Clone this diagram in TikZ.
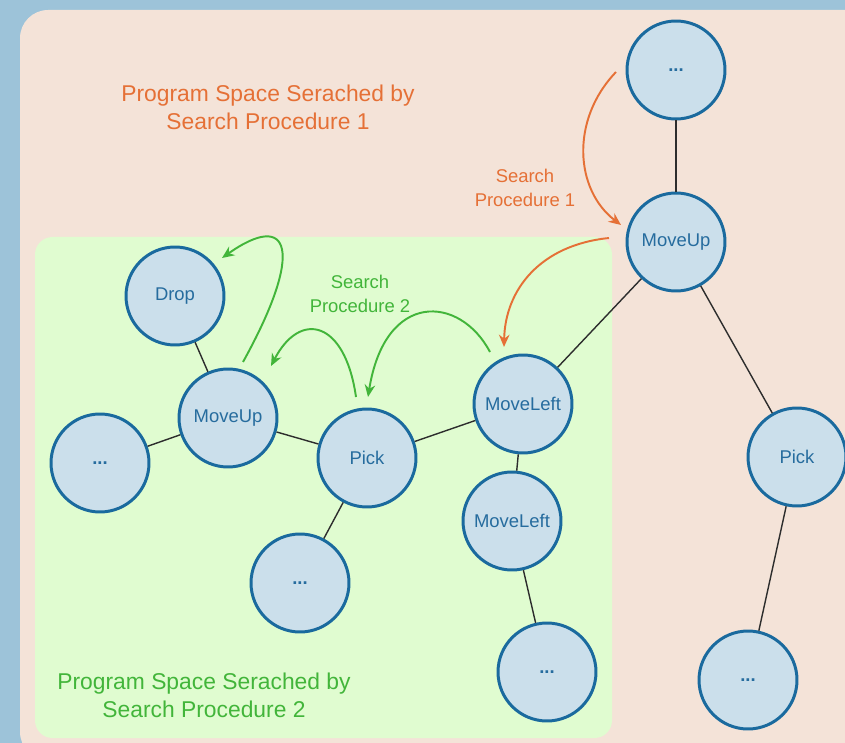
\documentclass[tikz,border=0pt]{standalone}
\usepackage{fontspec}
\setmainfont{Liberation Sans}
\usetikzlibrary{arrows.meta}

\definecolor{bgblue}{RGB}{157,195,217}
\definecolor{spaceone}{RGB}{244,227,216}
\definecolor{spacetwo}{RGB}{224,252,208}
\definecolor{nodefill}{RGB}{203,223,235}
\definecolor{nodeline}{RGB}{26,106,158}
\definecolor{nodetext}{RGB}{38,108,158}
\definecolor{procone}{RGB}{229,112,54}
\definecolor{proctwo}{RGB}{66,181,58}
\definecolor{edgegray}{RGB}{45,45,45}

\begin{document}
\begin{tikzpicture}[
    x=0.02cm, y=-0.02cm,
    state/.style={circle, draw=nodeline, fill=nodefill, line width=1.7pt, minimum size=1.96cm,
        inner sep=0pt, text=nodetext, font=\fontsize{10.5}{12}\selectfont},
    edge/.style={draw=edgegray, line width=0.8pt},
    searchone/.style={draw=procone, line width=1.1pt, -{Stealth[length=7pt, width=6pt]}},
    searchtwo/.style={draw=proctwo, line width=1.1pt, -{Stealth[length=7pt, width=6pt]}},
    biglabel/.style={align=center, font=\fontsize{13}{16}\selectfont},
    smalllabel/.style={align=center, font=\fontsize{10.5}{13.5}\selectfont}
]
    % Background and search spaces
    \useasboundingbox (0,0) rectangle (845,743);
    \clip (0,0) rectangle (845,743);
    \fill[bgblue] (0,0) rectangle (845,743);
    \fill[spaceone, rounded corners=16pt] (20,10) rectangle (880,760);
    \fill[spacetwo, rounded corners=10pt] (35,237) rectangle (612,738);

    % Nodes
    \node[state] (topdots) at (676,70) {\textbf{...}};
    \node[state] (moveupR) at (676,242) {MoveUp};
    \node[state] (pickR) at (797,457) {Pick};
    \node[state] (dotsR) at (748,680) {\textbf{...}};
    \node[state] (moveleftA) at (523,404) {MoveLeft};
    \node[state] (moveleftB) at (512,521) {MoveLeft};
    \node[state] (dotsB) at (547,672) {\textbf{...}};
    \node[state] (pickM) at (367,458) {Pick};
    \node[state] (dotsM) at (300,583) {\textbf{...}};
    \node[state] (moveupL) at (228,418) {MoveUp};
    \node[state] (drop) at (175,296) {Drop};
    \node[state] (dotsL) at (100,463) {\textbf{...}};

    % Tree edges
    \draw[edge] (topdots) -- (moveupR);
    \draw[edge] (moveupR) -- (pickR);
    \draw[edge] (pickR) -- (dotsR);
    \draw[edge] (moveupR) -- (moveleftA);
    \draw[edge] (moveleftA) -- (moveleftB);
    \draw[edge] (moveleftB) -- (dotsB);
    \draw[edge] (moveleftA) -- (pickM);
    \draw[edge] (pickM) -- (dotsM);
    \draw[edge] (pickM) -- (moveupL);
    \draw[edge] (moveupL) -- (drop);
    \draw[edge] (moveupL) -- (dotsL);

    % Search steps
    \coordinate (oneA) at (616,72);
    \coordinate (oneB) at (621,225);
    \coordinate (oneC) at (609,238);
    \coordinate (oneD) at (504,347);
    \draw[searchone] (oneA) .. controls (570,120) and (575,190) .. (oneB);
    \draw[searchone] (oneC) .. controls (540,245) and (505,290) .. (oneD);

    \coordinate (twoA) at (490,352);
    \coordinate (twoB) at (368,397);
    \coordinate (twoC) at (356,397);
    \coordinate (twoD) at (271,366);
    \coordinate (twoE) at (243,362);
    \coordinate (twoF) at (222,258);
    \draw[searchtwo] (twoA) .. controls (460,295) and (385,290) .. (twoB);
    \draw[searchtwo] (twoC) .. controls (345,320) and (300,310) .. (twoD);
    \draw[searchtwo] (twoE) .. controls (305,250) and (290,210) .. (twoF);

    % Labels
    \node[biglabel, text=procone] (spaceonelabel) at (268,107) {Program Space Serached by\\Search Procedure 1};
    \node[smalllabel, text=procone] (proconelabel) at (525,188) {Search\\Procedure 1};
    \node[smalllabel, text=proctwo] (proctwolabel) at (360,294) {Search\\Procedure 2};
    \node[biglabel, text=proctwo] (spacetwolabel) at (204,695) {Program Space Serached by\\Search Procedure 2};
\end{tikzpicture}
\end{document}
